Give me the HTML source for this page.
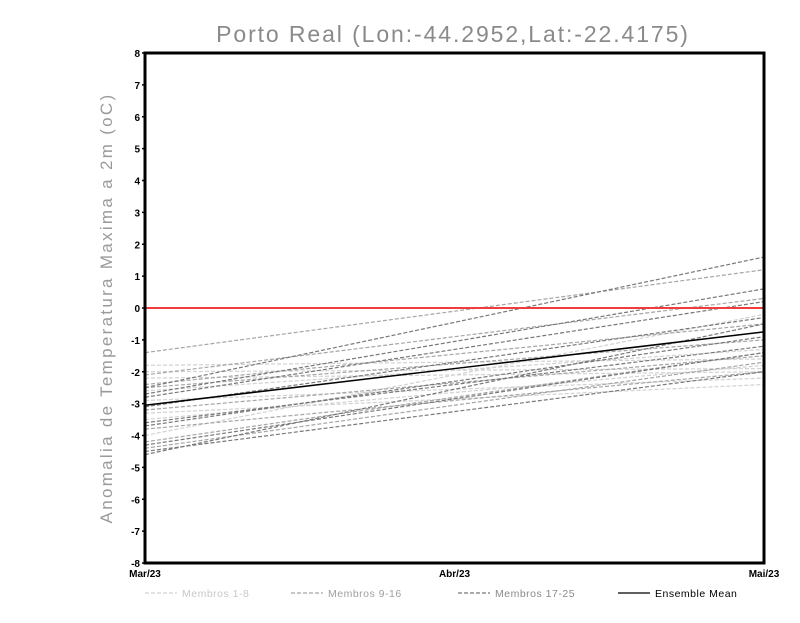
<!DOCTYPE html>
<html><head><meta charset="utf-8"><style>
body{margin:0;background:#fff;width:800px;height:618px;overflow:hidden}
svg{font-family:"Liberation Sans",sans-serif}
</style></head><body>
<svg id="c" width="800" height="618">
<text x="453" y="42" text-anchor="middle" font-size="23" fill="#8a8a8a" letter-spacing="1.9">Porto Real (Lon:-44.2952,Lat:-22.4175)</text>
<text transform="translate(112,308) rotate(-90)" text-anchor="middle" font-size="17" fill="#9a9a9a" letter-spacing="2.3">Anomalia de Temperatura Maxima a 2m (oC)</text>
<g id="plot"></g>
</svg>
<script>
const categories=["Mar/23","Abr/23","Mai/23"];
const yTicks=[-8,-7,-6,-5,-4,-3,-2,-1,0,1,2,3,4,5,6,7,8];
const members1to8=[[-1.8,-1.7,-1.6],[-2.0,-1.95,-1.9],[-2.2,-2.1,-2.0],[-2.6,-1.95,-1.3],[-2.9,-2.55,-2.2],[-3.3,-2.85,-2.4],[-3.5,-2.65,-1.8],[-4.0,-2.1,-0.2]];
const members9to16=[[-1.4,-0.1,1.2],[-2.1,-0.9,0.3],[-2.4,-1.45,-0.5],[-2.5,-1.75,-1.0],[-3.2,-2.35,-1.5],[-3.8,-2.9,-2.0],[-4.2,-2.8,-1.4],[-4.4,-3.05,-1.7]];
const members17to25=[[-2.5,-0.45,1.6],[-2.7,-1.05,0.6],[-2.8,-1.3,0.2],[-3.1,-1.7,-0.3],[-3.6,-2.4,-1.2],[-3.7,-2.3,-0.9],[-4.3,-2.85,-1.4],[-4.5,-3.25,-2.0],[-4.6,-2.55,-0.5]];
const ensembleMean=[-3.05,-1.9,-0.75];
const X0=145,X1=764,Y0=53,Y1=563;
const xs=i=>X0+(X1-X0)*i/(categories.length-1);
const ys=v=>Y1-(v+8)*(Y1-Y0)/16;
const NS="http://www.w3.org/2000/svg";
const g=document.getElementById("plot");
function mk(t,a){const e=document.createElementNS(NS,t);for(const k in a)e.setAttribute(k,a[k]);g.appendChild(e);return e;}
function line(vals,color,dash,w,name){
 const p=mk("polyline",{points:vals.map((v,i)=>xs(i)+","+ys(v)).join(" "),fill:"none",stroke:color,"stroke-width":w,"stroke-dasharray":dash});
 
 
}
members1to8.forEach((s,i)=>line(s,"#d2d2d2","4,2",1.2,"member-"+(i+1)));
members9to16.forEach((s,i)=>line(s,"#a6a6a6","4,2",1.2,"member-"+(i+9)));
members17to25.forEach((s,i)=>line(s,"#787878","4,2",1.2,"member-"+(i+17)));
const z=mk("line",{x1:X0,x2:X1,y1:ys(0),y2:ys(0),stroke:"#f03c3c","stroke-width":2});


line(ensembleMean,"#000","none",1.5,"ensemble-mean-line");
const fr=mk("rect",{x:X0,y:Y0,width:X1-X0,height:Y1-Y0,fill:"none",stroke:"#000","stroke-width":3});


yTicks.forEach(v=>{
 const t=mk("text",{x:X0-5,y:ys(v)+4,"text-anchor":"end","font-size":10,"font-weight":"bold",fill:"#000"});
 t.textContent=v;
 
 
 const tk=mk("line",{x1:X0-3,x2:X0,y1:ys(v),y2:ys(v),stroke:"#000","stroke-width":1.5});
 
 
});
categories.forEach((c,i)=>{
 const t=mk("text",{x:xs(i),y:577,"text-anchor":"middle","font-size":10,"font-weight":"bold",fill:"#000"});
 t.textContent=c;
 
 
});
const legend=[["Membros 1-8","#d2d2d2","#c8c8c8",145,"4,2"],["Membros 9-16","#a6a6a6","#a0a0a0",291,"4,2"],["Membros 17-25","#787878","#8a8a8a",458,"4,2"],["Ensemble Mean","#000","#000",618,"none"]];
legend.forEach(l=>{
 const ln=mk("line",{x1:l[3],x2:l[3]+32,y1:593,y2:593,stroke:l[1],"stroke-width":1.2,"stroke-dasharray":l[4]});
 
 
 const t=mk("text",{x:l[3]+37,y:597,"font-size":10.5,fill:l[2],"letter-spacing":"0.5"});
 t.textContent=l[0];
 
 
});
</script>
</body></html>
